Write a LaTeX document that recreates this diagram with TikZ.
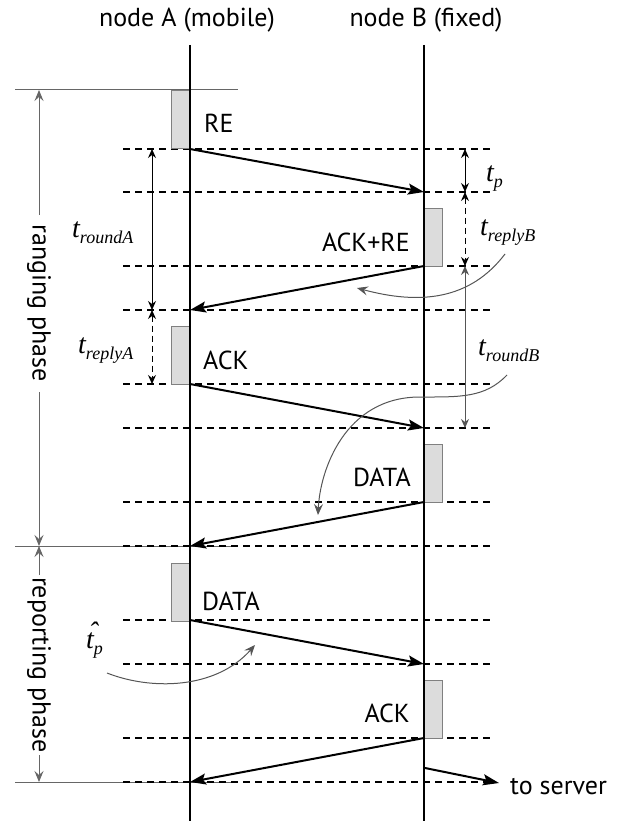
\documentclass[tikz,border=0pt]{standalone}
\usepackage{fontspec}
\setmainfont{PT Sans}
\newfontfamily\tfont{Liberation Serif}
\usetikzlibrary{arrows.meta}
\definecolor{boxfill}{HTML}{DCDCDC}
\definecolor{boxline}{HTML}{808080}
\definecolor{phasegray}{HTML}{666666}
\definecolor{curvegray}{HTML}{555555}
\newcommand{\tlab}[2]{{\tfont\itshape\fontsize{28}{28}\selectfont #1}\raisebox{-6pt}{\tfont\itshape\fontsize{18}{18}\selectfont #2}}
\begin{document}
\begin{tikzpicture}[x=1pt,y=-1pt,
  txt/.style={font=\fontsize{26}{26}\selectfont, inner sep=0pt},
  tl/.style={inner sep=0pt, anchor=base west},
  life/.style={line width=1.5pt},
  slot/.style={line width=1.4pt, dash pattern=on 7pt off 5pt},
  phaseline/.style={line width=1pt, draw=phasegray},
  phasearr/.style={line width=1pt, draw=phasegray, -{Stealth[length=11pt,width=9pt,inset=4pt,phasegray]}},
  msg/.style={line width=2pt, -{Stealth[length=16pt,width=11pt,inset=3pt]}},
  tarr/.style={line width=1pt, {Stealth[length=9pt,width=8pt,inset=3pt]}-{Stealth[length=9pt,width=8pt,inset=3pt]}},
  curvearr/.style={line width=1pt, draw=curvegray, -{Stealth[length=11pt,width=9pt,inset=4pt,curvegray]}},
  pkt/.style={draw=boxline, fill=boxfill, line width=0.8pt, inner sep=0pt, minimum width=18pt, minimum height=58pt}
]
\useasboundingbox (0,0) rectangle (618,821);

% headers
\node[txt, anchor=base] (hA) at (187,27) {node A (mobile)};
\node[txt, anchor=base] (hB) at (426,27) {node B (fixed)};

% phase boundary lines
\coordinate (p1L) at (15,90);   \coordinate (p1R) at (238,90);
\coordinate (p2L) at (15,546);  \coordinate (p2R) at (238,546);
\coordinate (p3L) at (15,782);  \coordinate (p3R) at (238,782);
\draw[phaseline] (p1L) -- (p1R);
\draw[phaseline] (p2L) -- (p2R);
\draw[phaseline] (p3L) -- (p3R);

% slot dashed lines
\foreach \y in {149,192,266,310,384,428,502,546,620,664,738,782}{
  \draw[slot] (123,\y) -- (492,\y);
}

% packet boxes
\node[pkt, anchor=north east] (bRE)   at (190,90.5) {};
\node[pkt, anchor=north west] (bAR)   at (424,207.5) {};
\node[pkt, anchor=north east] (bACK)  at (190,325.5) {};
\node[pkt, anchor=north west] (bDB)   at (424,443.5) {};
\node[pkt, anchor=north east] (bDA)   at (190,562.5) {};
\node[pkt, anchor=north west] (bAB)   at (424,679.5) {};

% lifelines
\coordinate (Atop) at (190,45); \coordinate (Abot) at (190,821);
\coordinate (Btop) at (424,45); \coordinate (Bbot) at (424,821);
\draw[life] (Atop) -- (Abot);
\draw[life] (Btop) -- (Bbot);

% packet labels
\node[txt, anchor=base west] (lRE)  at (204,133) {RE};
\node[txt, anchor=base east] (lAR)  at (410,251) {ACK+RE};
\node[txt, anchor=base west] (lACK) at (203,369) {ACK};
\node[txt, anchor=base east] (lDB)  at (411,486) {DATA};
\node[txt, anchor=base west] (lDA)  at (202,610) {DATA};
\node[txt, anchor=base east] (lAB)  at (410,722) {ACK};
\node[txt, anchor=base west] (lsrv) at (510,794) {to server};

% message event points
\coordinate (m1s) at (190,149); \coordinate (m1e) at (424,192);
\coordinate (m2s) at (424,266); \coordinate (m2e) at (190,310);
\coordinate (m3s) at (190,384); \coordinate (m3e) at (424,428);
\coordinate (m4s) at (424,502); \coordinate (m4e) at (190,546);
\coordinate (m5s) at (190,620); \coordinate (m5e) at (424,664);
\coordinate (m6s) at (424,738); \coordinate (m6e) at (190,782);
\coordinate (m7s) at (425,768); \coordinate (m7e) at (499,783);
\draw[msg] (m1s) -- (m1e);
\draw[msg] (m2s) -- (m2e);
\draw[msg] (m3s) -- (m3e);
\draw[msg] (m4s) -- (m4e);
\draw[msg] (m5s) -- (m5e);
\draw[msg] (m6s) -- (m6e);
\draw[msg] (m7s) -- (m7e);

% time interval arrows
\coordinate (tb1) at (465,149); \coordinate (tb2) at (465,192);
\coordinate (tb3) at (465,266); \coordinate (tb4) at (465,428);
\coordinate (ta1) at (152,149); \coordinate (ta2) at (152,310);
\coordinate (ta3) at (152,384);
\draw[tarr] (tb1) -- (tb2);
\draw[tarr, dash pattern=on 6pt off 4pt] (tb2) -- (tb3);
\draw[tarr, draw=curvegray] (tb3) -- (tb4);
\draw[tarr] (ta1) -- (ta2);
\draw[tarr, dash pattern=on 6pt off 4pt] (ta2) -- (ta3);

% time labels
\node[tl] (ttp)  at (486,182) {\tlab{t}{p}};
\node[tl] (trB)  at (480,235) {\tlab{t}{replyB}};
\node[tl] (troB) at (478,355) {\tlab{t}{roundB}};
\node[tl] (troA) at (72,237)  {\tlab{t}{roundA}};
\node[tl] (trA)  at (78,353)  {\tlab{t}{replyA}};
\node[tl] (thp)  at (86,648)  {\tlab{\rlap{\hspace{2.5pt}\raisebox{7pt}{ˆ}}t}{p}};

% phase labels and arrows
\node[txt, rotate=-90] (rng) at (39,303) {ranging phase};
\node[txt, rotate=-90] (rep) at (39,665) {reporting phase};
\coordinate (rg1) at (39,215); \coordinate (rg2) at (39,392);
\coordinate (rp1) at (39,575); \coordinate (rp2) at (39,755);
\coordinate (rgT) at (39,90);  \coordinate (rgB) at (39,546);
\coordinate (rpT) at (39,546); \coordinate (rpB) at (39,782);
\draw[phasearr] (rg1) -- (rgT);
\draw[phasearr] (rg2) -- (rgB);
\draw[phasearr] (rp1) -- (rpT);
\draw[phasearr] (rp2) -- (rpB);

% explanatory curved arrows
\coordinate (c1s) at (505,254); \coordinate (c1e) at (357,288);
\draw[curvearr] (c1s) .. controls (470,300) and (420,305) .. (c1e);
\coordinate (c2s) at (507,375); \coordinate (c2m) at (420,397); \coordinate (c2e) at (318,515);
\draw[curvearr] (c2s) .. controls (485,398) and (460,397) .. (c2m) .. controls (345,397) and (320,470) .. (c2e);
\coordinate (c3s) at (107,673); \coordinate (c3e) at (255,645);
\draw[curvearr] (c3s) .. controls (150,690) and (215,690) .. (c3e);
\end{tikzpicture}
\end{document}
